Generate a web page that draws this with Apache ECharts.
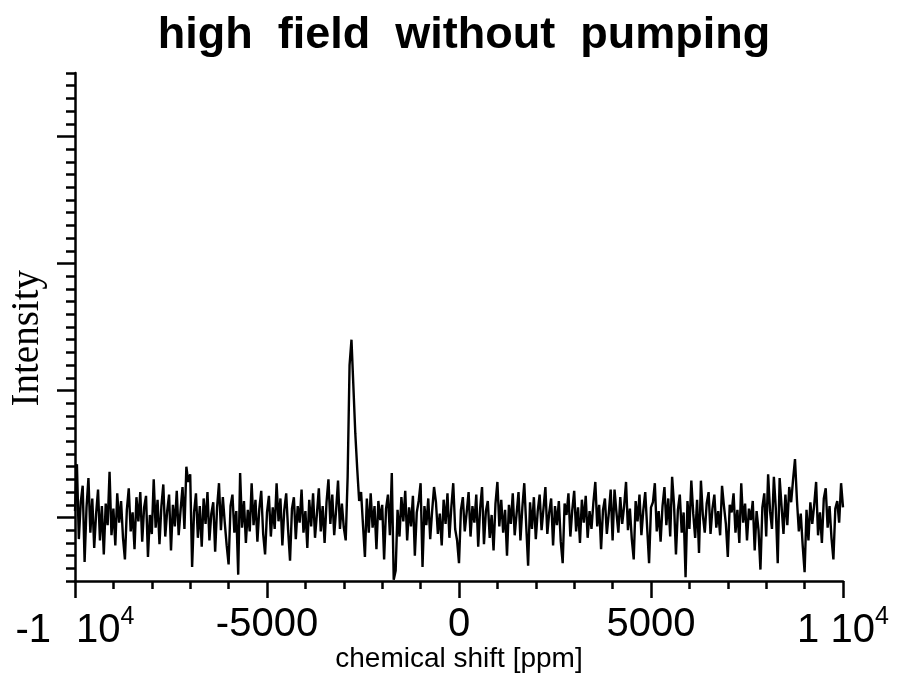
<!DOCTYPE html>
<html>
<head>
<meta charset="utf-8">
<title>high field without pumping</title>
<script src="https://cdn.jsdelivr.net/npm/echarts@6/dist/echarts.min.js"></script>
<style>
  html, body { margin: 0; padding: 0; background: #ffffff; }
  #chart { width: 897px; height: 673px; }
</style>
</head>
<body>
<div id="chart"></div>
<script>
// Spectrum sampled every 50 ppm from -10000 ppm to +10000 ppm
const shiftStart = -10000;
const shiftStep = 50;

// Intensity (arbitrary units), one value per sample
const intensity = [
  0.5, 4.2, -1.7, 1.2, 2.5, -3.5, 0.8, 3.1, -1.2, 1.5, -2.4, 0.3, 2.2, -1.8, 0.9, -2.9, 1.1, -0.6, 3.6, -1.4,
  0.7, -2.2, 1.9, -0.4, 1.3, -1.6, -3.3, 0.6, 2.3, -1.1, 0.4, -2.5, 1.6, -0.3, 2.0, -1.9, 0.8, 1.7, -3.1, 0.2,
  -1.3, 3.0, -0.8, 1.4, -2.1, 0.9, 2.6, -1.5, 0.5, 1.8, -2.6, 1.0, -0.7, 2.1, -1.4, 0.6, 2.4, -0.9, 4.0, 2.8,
  3.4, -3.9, 0.4, 1.9, -1.6, 0.9, -2.3, 1.5, -0.5, 2.0, -1.8, 0.3, 1.2, -2.7, 0.8, 2.7, -1.0, 1.6, -0.4, -2.2,
  -3.7, 0.9, 1.8, -1.2, 0.5, -4.5, 3.5, -0.8, 1.3, -2.0, 0.6, -1.1, 2.7, -0.6, 1.4, -1.9, 0.7, 2.1, -1.3, -2.9,
  0.4, 1.7, -1.5, 0.8, -0.9, 2.7, -0.3, 1.5, -2.2, 0.6, 1.9, -1.0, -3.4, 0.7, 1.6, -1.7, 0.9, -0.4, 2.2, -1.2,
  0.5, -2.4, 1.4, -0.7, 1.9, -1.6, 0.3, 2.3, -1.1, 0.9, -2.0, 1.2, 3.0, -0.5, 1.8, -1.4, 0.6, 2.9, -0.9, 1.1,
  -0.8, -1.8, 3.2, 12.0, 14.0, 10.3, 6.6, 3.8, 1.3, 2.0, -0.6, -3.1, 1.5, -1.2, 1.9, -0.8, 0.9, -2.5, 1.3, -0.2,
  1.0, -3.3, 0.7, 1.8, -1.4, 3.5, -4.9, -4.2, 0.6, -1.5, 1.6, -0.3, 2.1, -1.8, 0.8, -0.7, 1.7, -3.0, 0.4, 1.3,
  2.7, -3.9, 0.9, -0.6, 1.5, -1.7, 0.5, 2.4, 1.2, -1.3, 0.3, -2.2, 1.4, -0.5, 1.9, -1.6, 0.8, 2.7, -0.9, -1.8,
  -3.6, 0.6, 1.6, -1.1, 0.4, 2.0, -1.5, 0.9, -0.4, 1.8, -2.3, 0.7, 2.4, -2.1, 0.5, 1.3, -1.6, 0.2, -2.6, 1.1,
  2.8, -0.7, 1.4, -1.2, 0.6, -3.0, 1.0, -0.5, 1.9, -1.4, 0.3, 2.0, -1.8, 0.8, 2.7, -0.6, -3.8, 1.2, -0.9, 1.6,
  -1.7, 0.5, 1.8, -1.0, 0.7, 2.4, -1.3, 0.4, 1.5, -2.2, 0.9, -0.6, 1.3, -1.9, -3.6, 1.1, 0.2, 1.9, -1.5, 0.6,
  2.1, -1.1, 0.8, -2.0, 1.4, -0.4, 1.7, -1.6, 0.5, -0.9, 1.2, 2.8, -0.7, 1.0, -2.5, 0.6, 1.5, -1.3, 0.3, 2.2,
  -1.8, 2.2, 0.4, -1.2, 1.6, -0.5, 0.9, 2.8, -1.0, 0.7, -1.7, -3.3, 1.3, -0.3, 1.8, -1.4, 0.6, 2.0, -0.8, -3.6,
  0.8, 1.2, 2.7, -1.1, 0.5, -1.9, 0.9, 2.4, -0.6, 1.5, -1.5, 3.2, 1.0, -2.9, 0.6, 1.8, -1.2, 0.4, -4.7, 1.3,
  -0.9, 2.9, 0.3, -1.6, 1.4, -2.8, 2.9, 0.2, -1.2, 1.1, 2.0, -1.3, 0.7, 1.8, -0.8, 0.5, -1.4, 2.5, 0.9, -0.5,
  -3.1, 1.0, 0.4, 1.9, -1.2, 0.6, -2.0, 2.7, -0.4, 1.1, -1.8, 0.7, -0.2, 1.3, -2.6, 0.5, -1.0, -4.1, 0.8, 1.9,
  -1.5, 3.4, 0.5, -0.9, 3.2, 0.7, -3.6, 3.1, 0.9, -1.3, 1.8, -0.6, 2.4, 1.2, 3.0, 4.6, 1.4, -1.1, 0.3, -2.2,
  -4.3, 0.6, -1.8, 1.2, -0.5, 1.0, 2.8, -1.4, 0.4, -2.0, 1.5, 2.3, -0.8, 0.9, -1.6, -3.3, 0.7, 1.3, -0.4, 2.7,
  0.8
];

// Axis ranges and ticks
const shiftRange = [-10000, 10000];
const shiftTickStep = 5000;
const intensityRange = [-5, 35];
const intensityMinorStep = 1;
const intensityMajorTicks = [0, 10, 20, 30];

const titleText = 'high  field  without  pumping';
const xAxisTitle = 'chemical shift [ppm]';
const yAxisTitle = 'Intensity';

const points = intensity.map((v, i) => [shiftStart + i * shiftStep, v]);

const chart = echarts.init(document.getElementById('chart'), null, { renderer: 'canvas' });

const sans = '"Liberation Sans", Arial, Helvetica, sans-serif';
const serif = '"Liberation Serif", "Times New Roman", serif';
const axisStroke = { color: '#000000', width: 2.5 };

chart.setOption({
  backgroundColor: '#ffffff',
  animation: false,
  title: {
    text: titleText,
    left: 459,
    top: 8,
    textAlign: 'center',
    textStyle: {
      fontFamily: sans,
      fontWeight: 'bold',
      fontSize: 45,
      color: '#000000'
    }
  },
  graphic: [
    {
      type: 'text',
      left: 8,
      top: 270,
      rotation: Math.PI / 2,
      style: {
        text: yAxisTitle,
        font: '39px ' + serif,
        fill: '#000000'
      }
    }
  ],
  grid: {
    left: 75,
    right: 54,
    top: 73,
    bottom: 92,
    containLabel: false,
    outerBoundsMode: 'none'
  },
  xAxis: {
    type: 'value',
    min: shiftRange[0],
    max: shiftRange[1],
    interval: shiftTickStep,
    name: xAxisTitle,
    nameLocation: 'middle',
    nameGap: 64,
    nameMoveOverlap: false,
    nameTextStyle: {
      fontFamily: sans,
      fontSize: 28,
      color: '#000000'
    },
    axisLine: { show: true, onZero: false, lineStyle: axisStroke },
    axisTick: { show: true, inside: false, length: 17, lineStyle: axisStroke },
    minorTick: { show: true, splitNumber: 5, length: 8, lineStyle: axisStroke },
    splitLine: { show: false },
    minorSplitLine: { show: false },
    axisLabel: {
      show: true,
      margin: 24,
      showMinLabel: true,
      showMaxLabel: true,
      fontFamily: sans,
      fontSize: 40,
      color: '#000000',
      formatter: function (v) {
        if (v === -10000) return '{m|-1}{b|10}{s|4}';
        if (v === 10000) return '{b|1 10}{s|4}';
        return String(v);
      },
      rich: {
        m: { fontFamily: sans, fontSize: 40, color: '#000000', lineHeight: 46, verticalAlign: 'bottom', padding: [0, 25, 0, 0] },
        b: { fontFamily: sans, fontSize: 40, color: '#000000', lineHeight: 46, verticalAlign: 'bottom' },
        s: { fontFamily: sans, fontSize: 25, color: '#000000', lineHeight: 46, verticalAlign: 'top' }
      }
    }
  },
  yAxis: [
    {
      // axis line with a short tick at every unit
      type: 'value',
      min: intensityRange[0],
      max: intensityRange[1],
      interval: intensityMinorStep,
      axisLine: { show: true, onZero: false, lineStyle: axisStroke },
      axisTick: { show: true, inside: false, length: 9, lineStyle: axisStroke },
      splitLine: { show: false },
      axisLabel: { show: false }
    },
    {
      // long ticks every ten units
      type: 'value',
      position: 'left',
      min: intensityRange[0],
      max: intensityRange[1],
      axisLine: { show: false, onZero: false },
      axisTick: { show: true, inside: false, length: 18, customValues: intensityMajorTicks, lineStyle: axisStroke },
      splitLine: { show: false },
      axisLabel: { show: false }
    }
  ],
  series: [
    {
      type: 'line',
      yAxisIndex: 0,
      data: points,
      showSymbol: false,
      symbol: 'none',
      clip: true,
      lineStyle: { color: '#000000', width: 2.4 },
      itemStyle: { color: '#000000' }
    }
  ]
});
</script>
</body>
</html>
